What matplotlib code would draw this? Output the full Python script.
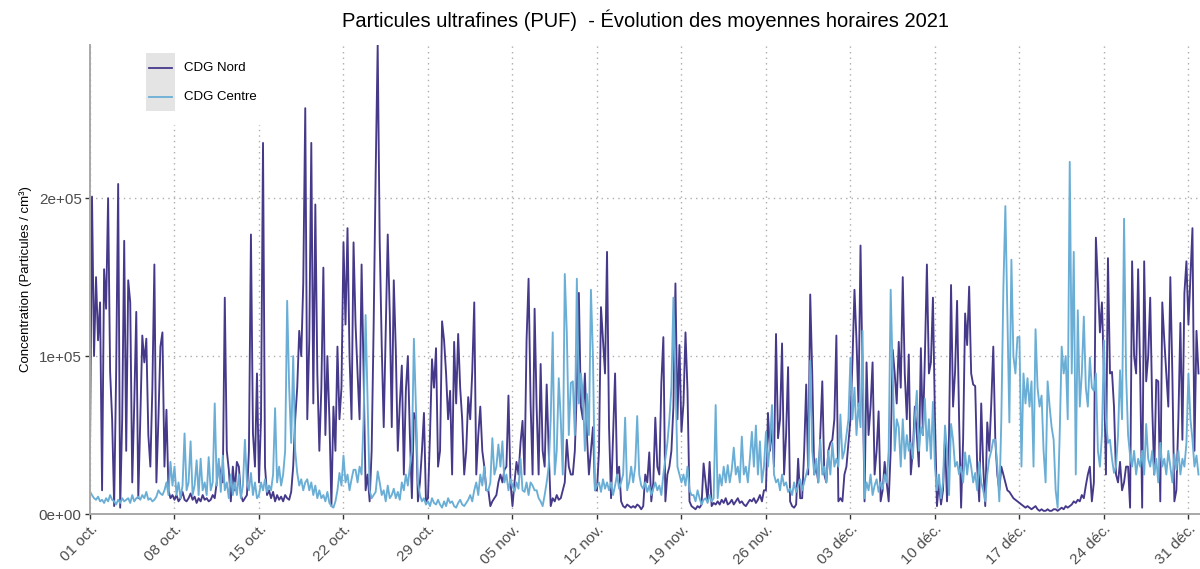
"""PUF hourly means, CDG Nord vs CDG Centre, Oct-Dec 2021."""

import matplotlib
matplotlib.use("Agg")
import matplotlib.pyplot as plt
import matplotlib.transforms as mtransforms
from matplotlib.patches import Rectangle
import numpy as np
import pandas as pd

plt.rcParams["font.family"] = ["Liberation Sans", "DejaVu Sans"]

# values in thousands of particles/cm3, one row per day, 4-hour steps (00h..20h)
NORD_K = [
    [40, 201, 100, 150, 110, 134], [15, 155, 130, 200, 90, 60], [5, 90, 209, 4, 60, 173],
    [40, 148, 134, 20, 70, 128], [10, 60, 113, 96, 111, 50], [30, 80, 158, 20, 60, 106],
    [115, 30, 66, 15, 10, 12], [9, 12, 8, 10, 14, 9], [8, 10, 13, 9, 11, 7],
    [10, 8, 12, 9, 10, 8], [9, 12, 10, 20, 32, 25], [20, 137, 40, 28, 8, 30],
    [15, 33, 30, 12, 8, 10], [12, 40, 177, 51, 30, 89], [20, 60, 235, 30, 12, 15],
    [10, 14, 8, 12, 9, 11], [8, 12, 10, 9, 14, 30], [60, 80, 116, 100, 146, 257],
    [60, 110, 235, 70, 196, 89], [40, 80, 156, 50, 100, 60], [5, 68, 40, 106, 60, 80],
    [172, 120, 181, 100, 60, 172], [120, 89, 60, 158, 89, 15], [25, 8, 40, 120, 216, 297],
    [173, 107, 55, 116, 177, 127], [55, 148, 104, 40, 70, 94], [25, 78, 100, 50, 10, 64],
    [60, 8, 20, 40, 64, 8], [10, 50, 98, 80, 105, 30], [40, 122, 110, 89, 60, 78],
    [25, 109, 70, 114, 80, 60], [25, 40, 74, 60, 90, 134], [25, 50, 68, 40, 30, 15],
    [15, 5, 8, 10, 12, 20], [25, 20, 28, 30, 75, 20], [5, 20, 33, 25, 45, 59],
    [25, 110, 149, 70, 25, 130], [68, 25, 95, 40, 30, 82], [40, 5, 10, 8, 12, 9],
    [10, 15, 20, 47, 30, 25], [25, 40, 80, 140, 68, 60], [89, 50, 25, 40, 55, 15],
    [15, 40, 131, 110, 89, 166], [55, 10, 50, 89, 25, 30], [8, 5, 4, 6, 5, 4],
    [5, 4, 6, 5, 3, 5], [25, 20, 39, 8, 20, 61], [30, 25, 83, 112, 8, 25],
    [30, 40, 68, 146, 60, 107], [52, 70, 115, 78, 8, 5], [4, 3, 5, 4, 6, 32],
    [20, 8, 33, 5, 7, 6], [8, 6, 9, 7, 10, 6], [7, 9, 6, 8, 10, 7],
    [8, 6, 5, 7, 9, 8], [10, 7, 9, 12, 8, 15], [15, 64, 40, 55, 30, 114],
    [48, 60, 108, 25, 50, 93], [8, 5, 4, 6, 35, 10], [10, 40, 82, 25, 139, 89],
    [25, 30, 20, 50, 84, 25], [20, 40, 45, 47, 60, 113], [8, 10, 8, 25, 30, 45],
    [60, 97, 142, 110, 68, 170], [89, 8, 96, 50, 68, 96], [25, 40, 65, 8, 15, 33],
    [20, 8, 40, 104, 89, 70], [109, 80, 150, 89, 60, 101], [25, 40, 68, 50, 30, 105],
    [50, 100, 158, 89, 96, 137], [60, 5, 20, 6, 15, 48], [8, 50, 145, 68, 90, 135],
    [60, 4, 47, 127, 107, 144], [89, 82, 81, 30, 8, 70], [30, 5, 58, 40, 70, 106],
    [47, 25, 15, 30, 25, 20], [15, 14, 12, 10, 9, 8], [7, 6, 5, 4, 5, 4],
    [3, 4, 5, 3, 2, 3], [2, 2, 3, 2, 2, 3], [3, 2, 3, 4, 3, 5],
    [4, 5, 6, 8, 7, 9], [8, 12, 10, 18, 25, 30], [8, 20, 175, 146, 115, 134],
    [89, 25, 162, 89, 90, 68], [25, 20, 33, 15, 20, 30], [30, 4, 160, 100, 89, 155],
    [89, 4, 160, 84, 100, 137], [68, 25, 85, 84, 8, 134], [110, 89, 68, 150, 89, 8],
    [15, 60, 121, 47, 140, 160], [120, 150, 181, 40, 116, 89],
]

CENTRE_K = [
    [14, 12, 10, 9, 11, 8], [9, 7, 10, 8, 12, 9], [8, 6, 9, 7, 10, 8],
    [9, 10, 7, 12, 8, 10], [11, 9, 12, 10, 14, 9], [10, 8, 9, 11, 15, 13],
    [12, 15, 20, 12, 33, 18], [30, 12, 20, 10, 18, 51], [15, 20, 46, 12, 18, 34],
    [12, 35, 15, 20, 12, 36], [15, 20, 70, 18, 35, 14], [37, 15, 20, 10, 25, 12],
    [20, 12, 25, 10, 18, 47], [20, 15, 26, 12, 20, 10], [12, 20, 15, 22, 14, 18],
    [15, 25, 67, 20, 30, 18], [25, 40, 135, 80, 45, 100], [40, 26, 18, 22, 15, 20],
    [22, 15, 20, 12, 18, 10], [15, 10, 12, 8, 14, 7], [5, 4, 8, 15, 26, 18],
    [37, 20, 25, 15, 22, 28], [28, 20, 30, 25, 60, 126], [70, 15, 10, 12, 14, 27],
    [20, 12, 15, 8, 18, 10], [12, 16, 10, 14, 9, 20], [15, 25, 18, 30, 40, 111],
    [68, 20, 12, 8, 10, 6], [8, 5, 10, 7, 6, 9], [6, 4, 8, 5, 10, 7],
    [8, 5, 4, 7, 9, 6], [5, 7, 9, 12, 8, 15], [20, 12, 25, 18, 30, 15],
    [15, 20, 48, 25, 30, 44], [30, 46, 20, 25, 15, 22], [18, 14, 20, 16, 35, 15],
    [14, 20, 12, 20, 18, 15], [15, 10, 8, 5, 12, 20], [30, 60, 115, 25, 40, 86],
    [60, 25, 152, 115, 50, 83], [84, 50, 149, 70, 89, 76], [40, 76, 50, 142, 100, 15],
    [18, 20, 14, 22, 16, 20], [15, 20, 12, 18, 25, 16], [20, 25, 61, 15, 20, 30],
    [20, 30, 62, 25, 18, 16], [20, 14, 18, 12, 16, 20], [15, 18, 12, 25, 35, 45],
    [60, 80, 137, 89, 30, 25], [20, 25, 18, 30, 15, 12], [12, 8, 15, 10, 6, 9],
    [10, 7, 12, 8, 10, 69], [10, 25, 18, 30, 20, 31], [20, 28, 42, 25, 30, 20],
    [49, 25, 30, 20, 35, 52], [30, 56, 25, 46, 20, 30], [52, 30, 45, 69, 25, 20],
    [22, 15, 25, 18, 20, 14], [16, 12, 20, 14, 18, 22], [15, 20, 25, 30, 97, 40],
    [25, 35, 20, 47, 25, 30], [20, 40, 25, 45, 30, 35], [30, 63, 35, 40, 50, 60],
    [99, 60, 80, 50, 70, 55], [116, 10, 20, 15, 25, 12], [18, 22, 14, 20, 16, 25],
    [20, 40, 142, 89, 40, 60], [55, 30, 60, 35, 50, 40], [45, 35, 60, 78, 40, 55],
    [50, 73, 40, 60, 35, 71], [30, 15, 25, 10, 20, 56], [40, 12, 57, 47, 30, 33],
    [25, 30, 20, 39, 25, 37], [30, 20, 26, 15, 33, 20], [15, 8, 25, 35, 40, 47],
    [47, 30, 8, 60, 142, 195], [128, 58, 161, 100, 89, 112], [112, 30, 89, 70, 86, 68],
    [84, 30, 117, 80, 68, 75], [40, 20, 84, 68, 55, 47], [15, 4, 50, 106, 89, 100],
    [60, 223, 89, 166, 25, 129], [68, 89, 125, 80, 68, 99], [80, 78, 89, 40, 30, 50],
    [110, 60, 45, 47, 35, 26], [30, 50, 91, 60, 187, 89], [50, 37, 30, 40, 25, 35],
    [30, 40, 25, 57, 35, 30], [40, 25, 35, 20, 45, 30], [35, 25, 40, 30, 20, 38],
    [28, 40, 25, 35, 30, 45], [89, 60, 47, 30, 37, 25],
]

SERIES = ["CDG Nord", "CDG Centre"]
COLORS = ["#45398A", "#6AAED6"]
TICK_LABELS = ["01 oct.", "08 oct.", "15 oct.", "22 oct.", "29 oct.", "05 nov.", "12 nov.",
               "19 nov.", "26 nov.", "03 déc.", "10 déc.", "17 déc.", "24 déc.", "31 déc."]
Y_TICKS = [0, 100000, 200000]
Y_LABELS = ["0e+00", "1e+05", "2e+05"]

nord = np.array(NORD_K, dtype=float).ravel() * 1000
centre = np.array(CENTRE_K, dtype=float).ravel() * 1000
times = pd.date_range("2021-10-01", periods=len(nord), freq="4h")

W, H = 1200, 569
fig = plt.figure(figsize=(W / 100, H / 100), dpi=100)
ax = fig.add_axes([90 / W, 55 / H, 1110 / W, 469 / H])

for y, name, color in zip([nord, centre], SERIES, COLORS):
    ax.plot(times, y, color=color, lw=1.35, zorder=2, label=name)

ax.set_xlim(pd.Timestamp("2021-10-01"), pd.Timestamp("2021-12-31 23:00"))
ax.set_ylim(0, max(nord.max(), centre.max()))

ticks = pd.date_range("2021-10-01", "2021-12-31", freq="7D")
ax.set_xticks(ticks)
ax.set_xticklabels(TICK_LABELS, rotation=45, ha="right", va="top", rotation_mode="anchor")
ax.set_yticks(Y_TICKS)
ax.set_yticklabels(Y_LABELS)

shift = mtransforms.ScaledTranslation(5 / 100, -6 / 100, fig.dpi_scale_trans)
for lab in ax.get_xticklabels():
    lab.set_transform(lab.get_transform() + shift)

ax.set_axisbelow(True)
ax.grid(True, color="#ADADAD", lw=1.0, linestyle=(0, (1, 3)))
for side in ["top", "right"]:
    ax.spines[side].set_visible(False)
for side in ["left", "bottom"]:
    ax.spines[side].set_color("#A8A8A8")
    ax.spines[side].set_linewidth(1.4)
ax.tick_params(axis="both", length=3.5, width=1.0, color="#333333",
               labelsize=11, labelcolor="#4D4D4D", pad=2.5)

ax.set_ylabel("Concentration (Particules / cm³)", fontsize=9.5, labelpad=5)
ax.set_title("Particules ultrafines (PUF)  - Évolution des moyennes horaires 2021",
             fontsize=14.5, pad=13)

# legend: white box, grey key background
def px(x, y):
    return (x - 90) / 1110, (514 - y) / 469

x0, y0 = px(138, 125)
x1, y1 = px(272, 45)
ax.add_patch(Rectangle((x0, y0), x1 - x0, y1 - y0, transform=ax.transAxes,
                       facecolor="white", edgecolor="none", zorder=1.5))
kx0, ky0 = px(146, 111)
kx1, ky1 = px(175, 53)
ax.add_patch(Rectangle((kx0, ky0), kx1 - kx0, ky1 - ky0, transform=ax.transAxes,
                       facecolor="#E4E4E4", edgecolor="none", zorder=4))
for name, color, ypix in zip(SERIES, COLORS, [68, 97]):
    lx0, ly = px(149, ypix)
    lx1, _ = px(172, ypix)
    ax.plot([lx0, lx1], [ly, ly], transform=ax.transAxes, color=color, lw=1.3,
            zorder=5, clip_on=False)
    tx, _ = px(184, ypix)
    ax.text(tx, ly, name, transform=ax.transAxes, fontsize=9.5, va="center",
            ha="left", zorder=5)

fig.savefig("out.png", dpi=100)
